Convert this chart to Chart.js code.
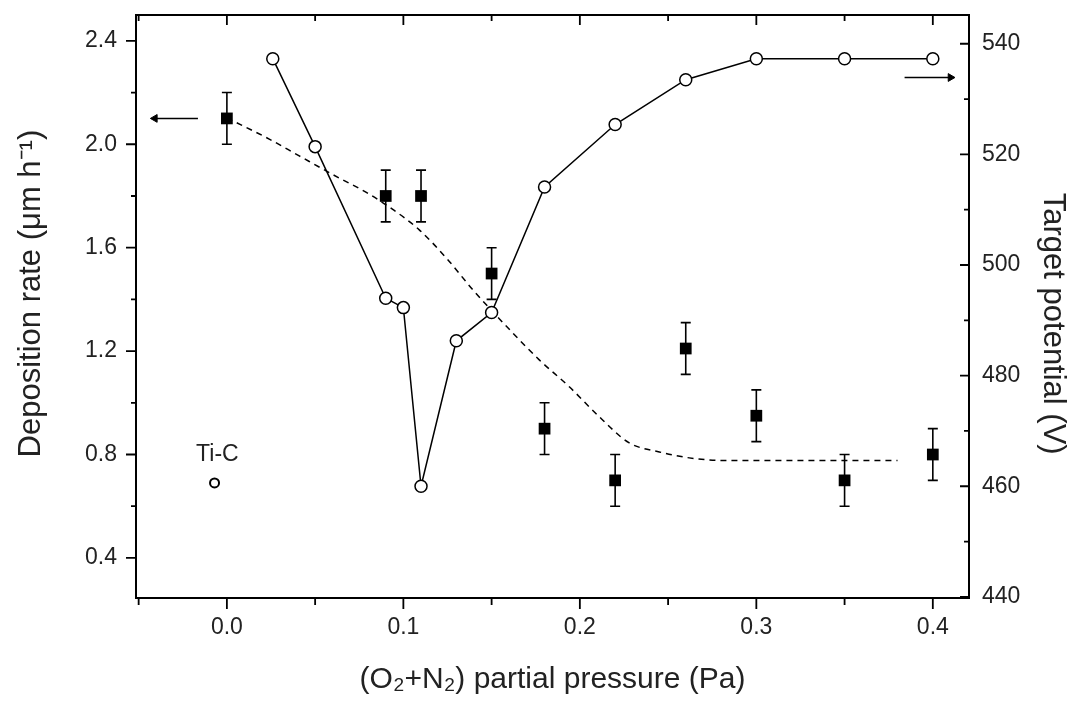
<!DOCTYPE html>
<html>
<head>
<meta charset="utf-8">
<script src="https://cdn.jsdelivr.net/npm/chart.js@4.4.0/dist/chart.umd.min.js"></script>
<style>
html,body{margin:0;padding:0;background:#fff;}
#wrap{width:1068px;height:702px;position:relative;}
</style>
</head>
<body>
<div id="wrap"><canvas id="c" width="1068" height="702"></canvas></div>
<script>
// ---- data ----
const pressure        = [0.00, 0.09, 0.11, 0.15, 0.18, 0.22, 0.26, 0.30, 0.35, 0.40];
const depositionRate  = [2.10, 1.80, 1.80, 1.50, 0.90, 0.70, 1.21, 0.95, 0.70, 0.80];
const depositionErr   = [0.10, 0.10, 0.10, 0.10, 0.10, 0.10, 0.10, 0.10, 0.10, 0.10];

const potentialPressure = [0.026, 0.05, 0.09, 0.10, 0.11, 0.13, 0.15, 0.18, 0.22, 0.26, 0.30, 0.35, 0.40];
const targetPotential   = [537.3, 521.4, 494.0, 492.3, 460.0, 486.3, 491.4, 514.1, 525.4, 533.5, 537.3, 537.3, 537.3];

const fitPressure = [0.000, 0.024, 0.041, 0.064, 0.079, 0.094, 0.109, 0.125, 0.139, 0.162, 0.177, 0.194, 0.211, 0.228, 0.245, 0.262, 0.281, 0.380];
const fitRate     = [2.102, 2.020, 1.955, 1.868, 1.814, 1.748, 1.669, 1.555, 1.440, 1.270, 1.166, 1.062, 0.946, 0.845, 0.810, 0.787, 0.777, 0.777];

const tiCPressure = [-0.007];
const tiCRate     = [0.69];

const leftArrowX  = [-0.0164, -0.0408];
const leftArrowY  = [2.10, 2.10];
const rightArrowX = [0.384, 0.410];
const rightArrowY = [533.9, 533.9];

const xMajorTicks     = [0.0, 0.1, 0.2, 0.3, 0.4];
const xMinorTicks     = [-0.05, 0.05, 0.15, 0.25, 0.35];
const leftMajorTicks  = [0.4, 0.8, 1.2, 1.6, 2.0, 2.4];
const leftMinorTicks  = [0.6, 1.0, 1.4, 1.8, 2.2];
const rightMajorTicks = [440, 460, 480, 500, 520, 540];
const rightMinorTicks = [450, 470, 490, 510, 530];

const xTitle     = '(O\u2082+N\u2082) partial pressure (Pa)';
const leftTitle  = '   Deposition rate (\u03bcm h\u207b\u00b9)';
const rightTitle = '    Target potential (V)';
const tiCLabel   = 'Ti-C';

// ---- chart ----
const FONT = "'Liberation Sans', Arial, sans-serif";
const TXT = '#222';

const pts = (xs, ys) => xs.map((v, i) => ({x: v, y: ys[i]}));
const noPad = s => { s.paddingTop = 0; s.paddingBottom = 0; s.paddingLeft = 0; s.paddingRight = 0; };

const decor = {
  id: 'decor',
  beforeDatasetsDraw(chart) {
    const {ctx, scales: {x, y}} = chart;
    ctx.save();
    ctx.strokeStyle = '#000';
    ctx.lineWidth = 1.6;
    pressure.forEach((p, i) => {
      const px = x.getPixelForValue(p);
      const t = y.getPixelForValue(depositionRate[i] + depositionErr[i]);
      const b = y.getPixelForValue(depositionRate[i] - depositionErr[i]);
      ctx.beginPath();
      ctx.moveTo(px, t); ctx.lineTo(px, b);
      ctx.moveTo(px - 5, t); ctx.lineTo(px + 5, t);
      ctx.moveTo(px - 5, b); ctx.lineTo(px + 5, b);
      ctx.stroke();
    });
    ctx.restore();
  },
  afterDraw(chart) {
    const {ctx, chartArea: a, scales: {x, y, y2}} = chart;
    ctx.save();
    ctx.strokeStyle = '#000';
    ctx.lineWidth = 2;
    ctx.beginPath();
    ctx.moveTo(a.left - 1, a.top); ctx.lineTo(a.right + 1, a.top);
    ctx.stroke();
    ctx.lineWidth = 1.8;
    ctx.beginPath();
    xMajorTicks.forEach(v => { const p = x.getPixelForValue(v);
      ctx.moveTo(p, a.bottom); ctx.lineTo(p, a.bottom + 11);
      ctx.moveTo(p, a.top); ctx.lineTo(p, a.top + 10); });
    xMinorTicks.forEach(v => { const p = x.getPixelForValue(v);
      ctx.moveTo(p, a.bottom); ctx.lineTo(p, a.bottom + 7);
      ctx.moveTo(p, a.top); ctx.lineTo(p, a.top + 6); });
    leftMajorTicks.forEach(v => { const p = y.getPixelForValue(v);
      ctx.moveTo(a.left, p); ctx.lineTo(a.left - 10, p); });
    leftMinorTicks.forEach(v => { const p = y.getPixelForValue(v);
      ctx.moveTo(a.left, p); ctx.lineTo(a.left - 5, p); });
    rightMajorTicks.forEach(v => { const p = y2.getPixelForValue(v);
      ctx.moveTo(a.right, p); ctx.lineTo(a.right - 9, p); });
    rightMinorTicks.forEach(v => { const p = y2.getPixelForValue(v);
      ctx.moveTo(a.right, p); ctx.lineTo(a.right - 5, p); });
    ctx.stroke();
    ctx.fillStyle = TXT;
    ctx.font = '23px ' + FONT;
    ctx.textAlign = 'center';
    ctx.textBaseline = 'alphabetic';
    const o = chart.options.plugins.decor;
    ctx.fillText(tiCLabel, x.getPixelForValue(o.labelX), y.getPixelForValue(o.labelY));
    ctx.restore();
  }
};

new Chart(document.getElementById('c'), {
  type: 'scatter',
  data: {
    datasets: [
      {
        label: 'Deposition rate',
        data: pts(pressure, depositionRate),
        yAxisID: 'y',
        showLine: false,
        pointStyle: 'rect',
        pointRadius: 8.3,
        backgroundColor: '#000',
        borderColor: '#000',
        borderWidth: 0,
        order: 1
      },
      {
        label: 'Target potential',
        data: pts(potentialPressure, targetPotential),
        yAxisID: 'y2',
        showLine: true,
        tension: 0,
        borderColor: '#000',
        borderWidth: 1.5,
        pointStyle: 'circle',
        pointRadius: 6,
        pointBorderWidth: 1.5,
        pointBackgroundColor: '#fff',
        pointBorderColor: '#000',
        order: 2
      },
      {
        label: 'Fit',
        data: pts(fitPressure, fitRate),
        yAxisID: 'y',
        showLine: true,
        cubicInterpolationMode: 'monotone',
        borderColor: '#000',
        borderWidth: 1.5,
        borderDash: [6, 5],
        pointRadius: 0,
        order: 3
      },
      {
        label: 'Ti-C',
        data: pts(tiCPressure, tiCRate),
        yAxisID: 'y',
        showLine: false,
        pointStyle: 'circle',
        pointRadius: 4.5,
        pointBorderWidth: 2,
        pointBackgroundColor: '#fff',
        pointBorderColor: '#000',
        order: 0
      },
      {
        label: 'left arrow',
        data: pts(leftArrowX, leftArrowY),
        yAxisID: 'y',
        showLine: true,
        borderColor: '#000',
        borderWidth: 1.5,
        pointStyle: 'triangle',
        pointRadius: [0, 4.5],
        pointRotation: -90,
        pointBackgroundColor: '#000',
        pointBorderColor: '#000',
        pointBorderWidth: 1,
        order: 0
      },
      {
        label: 'right arrow',
        data: pts(rightArrowX, rightArrowY),
        yAxisID: 'y2',
        showLine: true,
        borderColor: '#000',
        borderWidth: 1.5,
        pointStyle: 'triangle',
        pointRadius: [0, 4.5],
        pointRotation: 90,
        pointBackgroundColor: '#000',
        pointBorderColor: '#000',
        pointBorderWidth: 1,
        order: 0
      }
    ]
  },
  options: {
    responsive: false,
    animation: false,
    events: [],
    layout: {padding: {top: 15, left: 0, right: 0, bottom: 0}},
    plugins: {
      legend: {display: false},
      tooltip: {enabled: false},
      decor: {labelX: -0.0054, labelY: 0.775}
    },
    scales: {
      x: {
        type: 'linear', position: 'bottom', min: -0.0515, max: 0.4205,
        afterBuildTicks: s => { s.ticks = xMajorTicks.map(v => ({value: v})); },
        afterFit: s => { s.height = 104; noPad(s); },
        grid: {display: false, drawTicks: false},
        border: {display: true, color: '#000', width: 2},
        ticks: {padding: 16, color: TXT, font: {family: FONT, size: 23}, autoSkip: false, maxRotation: 0,
                callback: v => Number(v).toFixed(1)},
        title: {display: true, text: xTitle, color: TXT, font: {family: FONT, size: 30}, padding: {top: 0, bottom: 4}}
      },
      y: {
        type: 'linear', position: 'left', min: 0.245, max: 2.5,
        afterBuildTicks: s => { s.ticks = leftMajorTicks.map(v => ({value: v})); },
        afterFit: s => { s.width = 136; noPad(s); },
        grid: {display: false, drawTicks: false},
        border: {display: true, color: '#000', width: 2},
        ticks: {padding: 19, color: TXT, font: {family: FONT, size: 23}, autoSkip: false,
                callback: v => Number(v).toFixed(1)},
        title: {display: true, text: leftTitle, color: TXT, font: {family: FONT, size: 31}, padding: {top: 13, bottom: 0}}
      },
      y2: {
        type: 'linear', position: 'right', min: 439.8, max: 545.2,
        afterBuildTicks: s => { s.ticks = rightMajorTicks.map(v => ({value: v})); },
        afterFit: s => { s.width = 99; noPad(s); },
        grid: {display: false, drawTicks: false},
        border: {display: true, color: '#000', width: 2},
        ticks: {padding: 13, color: TXT, font: {family: FONT, size: 23}, autoSkip: false,
                callback: v => String(Math.round(v))},
        title: {display: true, text: rightTitle, color: TXT, font: {family: FONT, size: 31, lineHeight: 1}, padding: {top: 0, bottom: 0}}
      }
    }
  },
  plugins: [decor]
});
</script>
</body>
</html>
